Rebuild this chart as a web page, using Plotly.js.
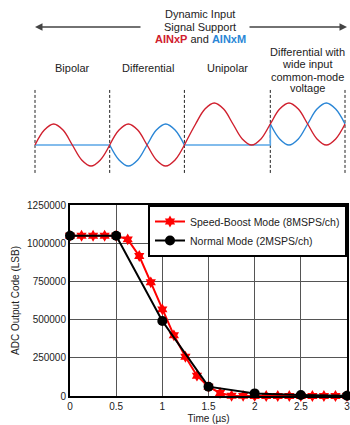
<!DOCTYPE html>
<html>
<head>
<meta charset="utf-8">
<script src="https://cdn.plot.ly/plotly-3.0.1.min.js"></script>
<style>html,body{margin:0;padding:0;background:#fff;}#chart{width:350px;height:425px;}</style>
</head>
<body>
<div id="chart"></div>
<script>
// ---- Chart data ----
const timeFast = [0, 0.125, 0.25, 0.375, 0.5, 0.625, 0.75, 0.875, 1.0, 1.125, 1.25, 1.375, 1.5, 1.625, 1.75, 1.875, 2.0, 2.125, 2.25, 2.375, 2.5, 2.625, 2.75, 2.875, 3.0];
const codeFast = [1048575, 1048575, 1048575, 1048575, 1048575, 1025000, 916000, 744000, 567000, 397000, 257000, 133000, 61000, 20000, 2000, 1000, 500, 300, 200, 200, 100, 100, 100, 100, 100];
const timeNormal = [0, 0.5, 1.0, 1.5, 2.0, 2.5, 3.0];
const codeNormal = [1048575, 1048575, 491000, 61000, 17000, 6500, 2000];
const nameFast = "Speed-Boost Mode (8MSPS/ch)";
const nameNormal = "Normal Mode (2MSPS/ch)";
const xTicks = [0, 0.5, 1, 1.5, 2, 2.5, 3];
const xTickText = ["0", "0.5", "1", "1.5", "2", "2.5", "3"];
const yTicks = [0, 250000, 500000, 750000, 1000000, 1250000];
const yTickText = ["0", "250000", "500000", "750000", "1000000", "1250000"];

// ---- Diagram data (x in signal periods, y in amplitude units) ----
const segBounds = [0, 1, 2, 3.15, 4.15];
const segLabels = ["Bipolar", "Differential", "Unipolar"];
const wideLabel = ["Differential with", "wide input", "common-mode", "voltage"];
const bipX = [0, 0.125, 0.25, 0.375, 0.5, 0.625, 0.75, 0.875, 1];
const bipRed = [0, 0.71, 1, 0.71, 0, -0.71, -1, -0.71, 0];
const bipBlueX = [0, 1];
const bipBlue = [0, 0];
const difX = [1, 1.125, 1.25, 1.375, 1.5, 1.625, 1.75, 1.875, 2];
const difRed = [0, 0.71, 1, 0.71, 0, -0.71, -1, -0.71, 0];
const difBlue = [0, -0.71, -1, -0.71, 0, 0.71, 1, 0.71, 0];
const uniRedX = [2, 2.15, 2.275, 2.4, 2.525, 2.65, 2.775, 2.9, 3.025, 3.15, 3.275, 3.4, 3.525, 3.65, 3.775, 3.9, 4.025, 4.15];
const uniRed = [0, 1, 1.71, 2, 1.71, 1, 0.29, 0, 0.29, 1, 1.71, 2, 1.71, 1, 0.29, 0, 0.29, 1];
const uniBlueX = [2, 3.15, 3.15];
const uniBlue = [0, 0, 1];
const wideBlueX = [3.15, 3.275, 3.4, 3.525, 3.65, 3.775, 3.9, 4.025, 4.15];
const wideBlue = [1, 0.29, 0, 0.29, 1, 1.71, 2, 1.71, 1];
const dashLow = -1.33, dashHigh = 2.62;

const RED = "#d0202e", BLUE = "#2a86d6", BLUE_FLAT = "#5aa6e6";
const W = 350, H = 425;
const P = x => x / W, Q = y => 1 - y / H;

const dashX = [], dashY = [];
segBounds.forEach(b => { dashX.push(b, b, null); dashY.push(dashLow, dashHigh, null); });

function diag(x, y, color, shape, width) {
  return {x: x, y: y, xaxis: "x2", yaxis: "y2", mode: "lines", showlegend: false, hoverinfo: "skip",
          line: {color: color, width: width || 1.4, shape: shape || "spline"}};
}

const traces = [
  {x: dashX, y: dashY, xaxis: "x2", yaxis: "y2", mode: "lines", showlegend: false, hoverinfo: "skip",
   line: {color: "#222", width: 1, dash: "3px,2px"}},
  diag(bipBlueX, bipBlue, BLUE_FLAT, "linear", 1.6),
  diag(uniBlueX, uniBlue, BLUE_FLAT, "linear", 1.6),
  diag(difX, difBlue, BLUE),
  diag(wideBlueX, wideBlue, BLUE),
  diag(bipX, bipRed, RED),
  diag(difX, difRed, RED),
  diag(uniRedX, uniRed, RED),
  {x: timeFast, y: codeFast, name: nameFast, mode: "lines+markers", cliponaxis: false,
   line: {color: "#ff0000", width: 2},
   marker: {symbol: "hexagram", size: 9, color: "#ff0000", line: {width: 0}}},
  {x: timeNormal, y: codeNormal, name: nameNormal, mode: "lines+markers", cliponaxis: false,
   line: {color: "#000", width: 2},
   marker: {symbol: "circle", size: 10, color: "#000"}}
];

const txt = (t, x, y, extra) => Object.assign({text: t, xref: "paper", yref: "paper", x: P(x), y: Q(y),
  xanchor: "center", yanchor: "middle", showarrow: false, font: {size: 11, color: "#222"}}, extra || {});

const segCenters = [72, 148, 227];
const annotations = [
  txt("Dynamic Input", 200, 14),
  txt("Signal Support", 200, 27),
  txt('<b><span style="color:' + RED + '">AINxP</span></b> and <b><span style="color:' + BLUE + '">AINxM</span></b>', 200, 39),
  {text: "", xref: "paper", yref: "paper", x: P(35), y: Q(27), ax: 107, ay: 0, showarrow: true,
   arrowhead: 2, arrowsize: 1, arrowwidth: 1.5, arrowcolor: "#444", standoff: 0},
  {text: "", xref: "paper", yref: "paper", x: P(347), y: Q(27), ax: -99, ay: 0, showarrow: true,
   arrowhead: 2, arrowsize: 1, arrowwidth: 1.5, arrowcolor: "#444", standoff: 0}
];
segLabels.forEach((s, i) => annotations.push(txt(s, segCenters[i], 68)));
const wideY = [52, 64, 77, 88];
wideLabel.forEach((s, i) => annotations.push(txt(s, 307, wideY[i])));

const layout = {
  width: W, height: H,
  margin: {l: 0, r: 0, t: 0, b: 0, autoexpand: false},
  paper_bgcolor: "#fff", plot_bgcolor: "#fff",
  font: {family: "Liberation Sans, Arial, sans-serif", size: 10, color: "#222"},
  showlegend: true,
  legend: {x: P(347), y: Q(205), xanchor: "right", yanchor: "top", bgcolor: "#fff",
           bordercolor: "#000", borderwidth: 2, font: {size: 10.5, color: "#222"}, tracegroupgap: 0,
           itemwidth: 30},
  xaxis: {domain: [P(70), P(347)], range: [0, 3], tickvals: xTicks, ticktext: xTickText,
          showgrid: true, gridcolor: "#555", gridwidth: 1, zeroline: false,
          showline: true, linecolor: "#000", linewidth: 2, mirror: true, ticks: "", ticklen: 0,
          ticklabeloverflow: "allow",
          title: {text: "Time (µs)", font: {size: 10, color: "#222"}, standoff: 4},
          tickfont: {size: 10, color: "#222"}, anchor: "y", fixedrange: true},
  yaxis: {domain: [Q(396), Q(205)], range: [0, 1250000], tickvals: yTicks, ticktext: yTickText,
          showgrid: true, gridcolor: "#555", gridwidth: 1, zeroline: false,
          showline: true, linecolor: "#000", linewidth: 2, mirror: true, ticks: "",
          ticklabeloverflow: "allow",
          title: {text: "ADC Output Code (LSB)", font: {size: 10, color: "#222"}, standoff: 6},
          tickfont: {size: 10, color: "#222"}, anchor: "x", fixedrange: true},
  xaxis2: {domain: [0, 1], range: [-35 / 74.7, 315 / 74.7], visible: false, anchor: "y2", fixedrange: true},
  yaxis2: {domain: [Q(180), 1], range: [-35 / 21, 145 / 21], visible: false, anchor: "x2", fixedrange: true},
  annotations: annotations
};

Plotly.newPlot("chart", traces, layout, {staticPlot: true, displayModeBar: false});
</script>
</body>
</html>
